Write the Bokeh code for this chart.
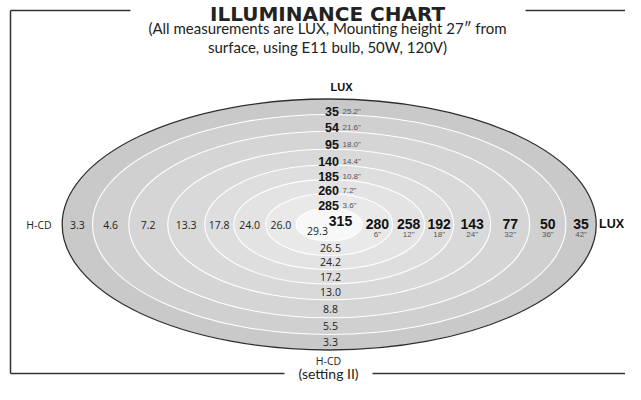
from bokeh.plotting import figure
from bokeh.models import Range1d
from bokeh.core.properties import value
from bokeh.embed import file_html
from bokeh.resources import INLINE

# ---------------- data ----------------
title = "ILLUMINANCE CHART"
subtitle = ["(All measurements are LUX, Mounting height 27\u2033 from",
            "surface, using E11 bulb, 50W, 120V)"]
footer = "(setting II)"

# vertical column (upwards from centre): lux and distance
top_lux = ["35", "54", "95", "140", "185", "260", "285"]
top_dist = ["25.2\"", "21.6\"", "18.0\"", "14.4\"", "10.8\"", "7.2\"", "3.6\""]
centre_lux = "315"
# horizontal row (to the right): lux and distance
right_lux = ["280", "258", "192", "143", "77", "50", "35"]
right_dist = ["6\"", "12\"", "18\"", "24\"", "32\"", "36\"", "42\""]
# H-CD values, horizontal (left, outer -> inner) and vertical (down, inner -> outer)
left_hcd = ["3.3", "4.6", "7.2", "13.3", "17.8", "24.0", "26.0"]
centre_hcd = "29.3"
bottom_hcd = ["26.5", "24.2", "17.2", "13.0", "8.8", "5.5", "3.3"]

# ---------------- layout (pixel frame of the figure) ----------------
W, H = 625, 384
cx, cy = 328.7, 224.0
ring_rx = [267.0, 236.7, 200.5, 161.5, 124.5, 95.5, 63.5, 33.0]   # outer -> inner
ring_ry = [125.5, 110.0, 93.3, 75.3, 59.5, 44.9, 31.0, 16.5]
ring_fill = ["#c9c9c9", "#d0d0d0", "#d5d5d5", "#d9d9d9", "#dedede", "#e3e3e3", "#e9e9e9", "#f8f8f8"]

p = figure(width=W, height=H, x_range=Range1d(0, W), y_range=Range1d(H, 0),
           output_backend="svg", toolbar_location=None, min_border=0)
p.axis.visible = False
p.grid.visible = False
p.outline_line_color = None
p.background_fill_color = "white"

# rings
p.ellipse(x=[cx] * len(ring_rx), y=[cy] * len(ring_rx),
          width=[2 * r for r in ring_rx], height=[2 * r for r in ring_ry],
          fill_color=ring_fill, line_color="white", line_width=1.1)
p.ellipse(x=[cx], y=[cy], width=[2 * ring_rx[0]], height=[2 * ring_ry[0]],
          fill_color=None, line_color="#2e2e2e", line_width=1.3)

# frame
fc = "#333333"
top_y, bot_y = 10, 373
p.segment(x0=[10, 10, 525, 10, 372], y0=[top_y, top_y, top_y, bot_y, bot_y],
          x1=[10, 130, W + 5, 284, W + 5], y1=[bot_y, top_y, top_y, bot_y, bot_y],
          line_color=fc, line_width=1.5)

# helpers for label positions: midpoints between ring boundaries
tops = [cy - r for r in ring_ry]            # outer -> inner
bots = [cy + r for r in ring_ry]
rights = [cx + r for r in ring_rx]
lefts = [cx - r for r in ring_rx]
top_mid = [(tops[i] + tops[i + 1]) / 2 for i in range(7)]
bot_mid = [(bots[7 - i] + bots[6 - i]) / 2 for i in range(7)]
right_mid = [(rights[7 - i] + rights[6 - i]) / 2 for i in range(7)]
left_mid = [(lefts[i] + lefts[i + 1]) / 2 for i in range(7)]

bold = value("Liberation Sans")
myriad = value("Open Sans")
futura = value("Lato")

# title/subtitle/footer
p.text(x=[327], y=[13], text=[title], text_font=value("DejaVu Sans"), text_font_style="bold",
       text_font_size="20px", text_align="center", text_baseline="alphabetic", text_color="#222222")
p.text(x=[327, 327], y=[27.5, 46], text=subtitle, text_font=futura,
       text_font_size="15px", text_align="center", text_baseline="alphabetic", text_color="#222222")
p.text(x=[328], y=[bot_y], text=[footer], text_font=futura,
       text_font_size="14px", text_align="center", text_baseline="middle", text_color="#222222")

# top column
p.text(x=[341], y=[86], text=["LUX"], text_font=bold, text_font_style="bold",
       text_font_size="11px", text_align="center", text_baseline="middle", text_color="#111111")
p.text(x=[338.5] * 7, y=[m + 4.3 for m in top_mid], text=top_lux, text_font=bold,
       text_font_style="bold", text_font_size="12.5px", text_align="right",
       text_baseline="alphabetic", text_color="#111111")
p.text(x=[342] * 7, y=[m + 4.3 for m in top_mid], text=top_dist, text_font=bold,
       text_font_size="8px", text_align="left", text_baseline="alphabetic", text_color="#555555")

# centre
p.text(x=[340], y=[220], text=[centre_lux], text_font=bold, text_font_style="bold",
       text_font_size="14px", text_align="center", text_baseline="middle", text_color="#111111")
p.text(x=[317], y=[230], text=[centre_hcd], text_font=myriad,
       text_font_size="10.5px", text_align="center", text_baseline="middle", text_color="#222222")

# right row
p.text(x=right_mid, y=[223] * 7, text=right_lux, text_font=bold, text_font_style="bold",
       text_font_size="14px", text_align="center", text_baseline="middle", text_color="#111111")
p.text(x=right_mid, y=[233.5] * 7, text=right_dist, text_font=bold,
       text_font_size="8px", text_align="center", text_baseline="middle", text_color="#555555")
p.text(x=[611], y=[223], text=["LUX"], text_font=bold, text_font_style="bold",
       text_font_size="12.5px", text_align="center", text_baseline="middle", text_color="#111111")

# left row
p.text(x=left_mid, y=[224] * 7, text=left_hcd, text_font=myriad,
       text_font_size="10.5px", text_align="center", text_baseline="middle", text_color="#222222")
p.text(x=[38.5], y=[224], text=["H-CD"], text_font=myriad,
       text_font_size="10.5px", text_align="center", text_baseline="middle", text_color="#222222")

# bottom column
p.text(x=[330] * 7, y=bot_mid, text=bottom_hcd, text_font=myriad,
       text_font_size="10.5px", text_align="center", text_baseline="middle", text_color="#222222")
p.text(x=[328], y=[360], text=["H-CD"], text_font=myriad,
       text_font_size="10.5px", text_align="center", text_baseline="middle", text_color="#222222")

open("out.html", "w").write(file_html(p, INLINE))
